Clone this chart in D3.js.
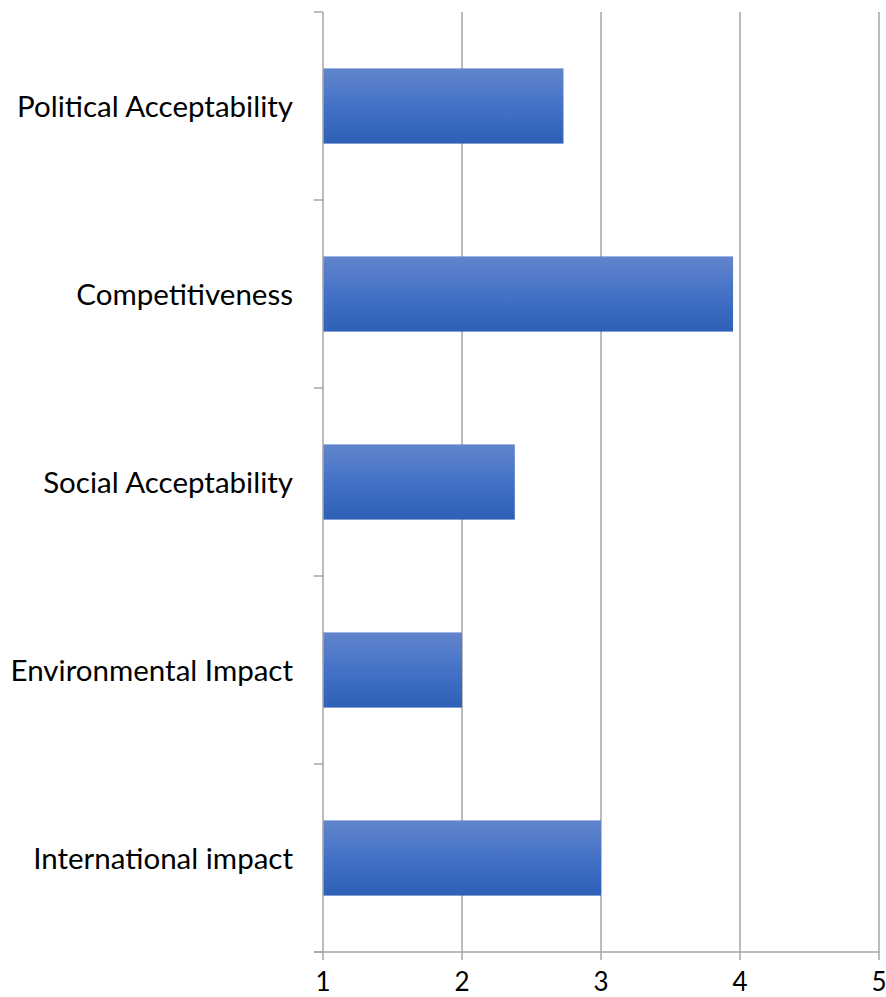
<!DOCTYPE html>
<html>
<head>
<meta charset="utf-8">
<script src="https://cdn.jsdelivr.net/npm/d3@7"></script>
<style>
html,body{margin:0;padding:0;background:#fff;}
svg text{font-family:Lato, "Open Sans", sans-serif;fill:#000;}
</style>
</head>
<body>
<svg id="chart" width="886" height="997"></svg>
<script>
const categories = ["Political Acceptability","Competitiveness","Social Acceptability","Environmental Impact","International impact"];
const values = [2.73, 3.95, 2.38, 2.0, 3.0];
const xTicks = [1,2,3,4,5];

const svg = d3.select("#chart");
const mLeft = 323, mRight = 879, mTop = 12, mBottom = 952;
const x = d3.scaleLinear().domain([1,5]).range([mLeft,mRight]);
const y = d3.scaleBand().domain(categories).range([mTop,mBottom]).paddingInner(0.6).paddingOuter(0.3);
const yb = d3.scaleBand().domain(categories).range([mTop,mBottom]);

const defs = svg.append("defs");
const g = defs.append("linearGradient").attr("id","barGrad").attr("x1",0).attr("y1",0).attr("x2",0).attr("y2",1);
g.append("stop").attr("offset","0%").attr("stop-color","#6285cd");
g.append("stop").attr("offset","50%").attr("stop-color","#4472c6");
g.append("stop").attr("offset","100%").attr("stop-color","#2e60b8");

const gridColor = "#a6a6a6";
// gridlines
svg.append("g").selectAll("line").data(xTicks.slice(1)).join("line")
  .attr("x1",d=>x(d)).attr("x2",d=>x(d)).attr("y1",mTop).attr("y2",mBottom+8)
  .attr("stroke",gridColor).attr("stroke-width",1.5);

// bars
svg.append("g").selectAll("rect").data(categories).join("rect")
  .attr("x",x(1)).attr("y",d=>y(d))
  .attr("width",(d,i)=>x(values[i])-x(1)).attr("height",y.bandwidth())
  .attr("fill","url(#barGrad)");

// y axis line
svg.append("line").attr("x1",mLeft).attr("x2",mLeft).attr("y1",mTop).attr("y2",mBottom+8)
  .attr("stroke",gridColor).attr("stroke-width",1.5);
// y category ticks
const yTickPos = categories.map(c=>yb(c)).concat([mBottom]);
svg.append("g").selectAll("line").data(yTickPos).join("line")
  .attr("x1",mLeft-9).attr("x2",mLeft).attr("y1",d=>d).attr("y2",d=>d)
  .attr("stroke",gridColor).attr("stroke-width",1.5);
// x axis line
svg.append("line").attr("x1",mLeft-9).attr("x2",mRight).attr("y1",mBottom).attr("y2",mBottom)
  .attr("stroke",gridColor).attr("stroke-width",1.5);

// category labels
svg.append("g").selectAll("text").data(categories).join("text")
  .attr("x",293).attr("y",d=>yb(d)+yb.bandwidth()/2+10.5)
  .attr("text-anchor","end")
  .attr("font-size",29.5).text(d=>d);

// x tick labels
svg.append("g").selectAll("text").data(xTicks).join("text")
  .attr("x",d=>x(d)).attr("y",991).attr("text-anchor","middle")
  .attr("font-size",26).text(d=>d);
</script>
</body>
</html>
